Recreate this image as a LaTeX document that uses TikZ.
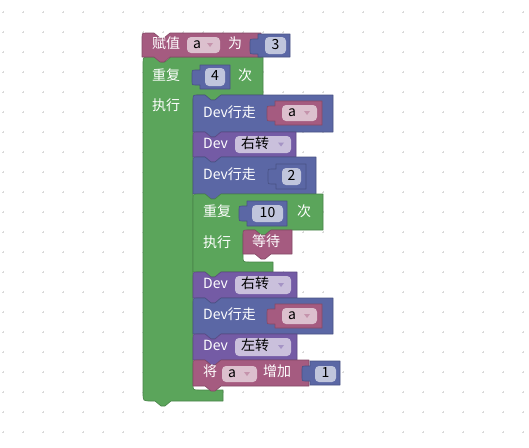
\documentclass[tikz,border=0pt]{standalone}
\usepackage{fontspec}
\setmainfont{Noto Sans CJK SC}
\definecolor{cmag}{HTML}{A55B80}
\definecolor{cgreen}{HTML}{5BA55B}
\definecolor{cblue}{HTML}{5B67A5}
\definecolor{cpurple}{HTML}{745BA5}
\definecolor{cgrid}{HTML}{D9D9D9}
\tikzset{
  lbl/.style={text=white, font=\fontsize{14}{16}\selectfont, inner sep=0pt, text height=0.88em, text depth=0.12em, anchor=west},
  ftxt/.style={text=black, font=\fontsize{14}{16}\selectfont, inner sep=0pt, text height=0.88em, text depth=0.12em},
  blkline/.style={line width=0.6pt, line join=round},
  fldbox/.style={fill=white, fill opacity=0.62, rounded corners=4pt},
}
% statement block: color, x1, y1, x2, y2
\newcommand\stmtblk[5]{%
  \path[blkline, fill=#1, draw=#1!80!black]
    (#2,#3+5) .. controls (#2,#3) .. (#2+5,#3) -- (#2+12,#3) -- (#2+18,#3+5) -- (#2+22,#3+5) -- (#2+28,#3)
    -- (#4,#3) -- (#4,#5) -- (#2+28,#5) -- (#2+22,#5+5) -- (#2+18,#5+5) -- (#2+12,#5) -- (#2,#5) -- cycle;}
% value block: color, x1, y1, x2, y2
\newcommand\valblk[5]{%
  \path[blkline, fill=#1, draw=#1!80!black]
    (#2,#3) -- (#4,#3) -- (#4,#5) -- (#2,#5) -- (#2,#3+20) -- (#2-5,#3+20) .. controls (#2-8,#3+20) .. (#2-8,#3+17)
    -- (#2-8,#3+8) .. controls (#2-8,#3+5) .. (#2-5,#3+5) -- (#2,#3+5) -- cycle;}
% plain field: name, x1, y1, x2, y2, text
\newcommand\numfld[6]{%
  \path[fldbox] (#2,#3) rectangle (#4,#5);
  \node[ftxt] (#1) at ({(#2+#4)/2},{(#3+#5)/2}) {#6};}
% dropdown field: name, x1, y1, x2, y2, text, triangle colour
\newcommand\ddfld[7]{%
  \path[fldbox] (#2,#3) rectangle (#4,#5);
  \node[ftxt, anchor=west] (#1) at (#2+6,{(#3+#5)/2}) {#6};
  \path[fill=#7] (#4-13,{(#3+#5)/2-2}) -- (#4-7,{(#3+#5)/2-2}) -- (#4-10,{(#3+#5)/2+2}) -- cycle;}
\begin{document}
\begin{tikzpicture}[x=1pt, y=-1pt]
\path[fill=white, use as bounding box] (0,0) rectangle (529,447);
% grid
\foreach \gx in {3,23,...,523}{
  \foreach \gy in {12,32,...,432}{
    \path[fill=cgrid] (\gx-1.3,\gy-0.45) rectangle (\gx+1.3,\gy+0.45);
    \path[fill=cgrid] (\gx-0.45,\gy-1.3) rectangle (\gx+0.45,\gy+1.3);
  }}
% outer repeat (green C block)
\path[blkline, fill=cgreen, draw=cgreen!80!black]
  (143,63) .. controls (143,57) .. (149,57) -- (155,57) -- (161,62) -- (165,62) -- (171,57) -- (263,57) -- (263,95)
  -- (221,95) -- (215,100) -- (211,100) -- (205,95) -- (199,95) .. controls (193,95) .. (193,101)
  -- (193,384) .. controls (193,390) .. (199,390) -- (223,390) -- (223,401)
  -- (171,401) -- (165,406) -- (161,406) -- (155,401) -- (151,401) .. controls (143,401) .. (143,393) -- cycle;
\node[lbl] (rep1) at (152,77) {重复};
\node[lbl] (ci1) at (238,77) {次};
\node[lbl] (do1) at (152,107) {执行};
\valblk{cblue}{200}{65}{230}{89}
\numfld{n4}{205}{68}{225}{86}{4}
% C1: Dev行走 a
\stmtblk{cblue}{193}{95}{333}{132}
\node[lbl] (walk1) at (203,114) {Dev行走};
\valblk{cmag}{275}{101}{322}{125}
\ddfld{va1}{282}{105}{317}{121}{a}{cmag!65!white}
% C2: Dev 右转
\stmtblk{cpurple}{193}{132}{296}{157}
\node[lbl] (dev2) at (203,145) {Dev};
\ddfld{turn1}{235}{136}{291}{153}{右转}{cpurple!65!white}
% C3: Dev行走 2
\stmtblk{cblue}{193}{157}{316}{194}
\node[lbl] (walk2) at (203,176) {Dev行走};
\valblk{cblue}{276}{164}{306}{189}
\numfld{n2}{282}{168}{301}{185}{2}
% inner repeat
\path[blkline, fill=cgreen, draw=cgreen!80!black]
  (193,200) .. controls (193,194) .. (199,194) -- (205,194) -- (211,199) -- (215,199) -- (221,194) -- (323,194) -- (323,230)
  -- (271,230) -- (265,235) -- (261,235) -- (255,230) -- (249,230) .. controls (243,230) .. (243,236)
  -- (243,256) .. controls (243,262) .. (249,262) -- (273,262) -- (273,272)
  -- (221,272) -- (215,277) -- (211,277) -- (205,272) -- (193,272) -- cycle;
\node[lbl] (rep2) at (203,213) {重复};
\node[lbl] (ci2) at (297,213) {次};
\node[lbl] (do2) at (203,244) {执行};
\valblk{cblue}{247}{201}{287}{226}
\numfld{n10}{252}{205}{283}{222}{10}
% 等待
\stmtblk{cmag}{243}{230}{292}{254}
\node[lbl] (wait) at (252,243) {等待};
% C5: Dev 右转
\stmtblk{cpurple}{193}{272}{297}{298}
\node[lbl] (dev5) at (203,285) {Dev};
\ddfld{turn2}{235}{276}{291}{294}{右转}{cpurple!65!white}
% C6: Dev行走 a
\stmtblk{cblue}{193}{298}{333}{334}
\node[lbl] (walk3) at (203,316) {Dev行走};
\valblk{cmag}{275}{304}{322}{328}
\ddfld{va2}{282}{308}{317}{324}{a}{cmag!65!white}
% C7: Dev 左转
\stmtblk{cpurple}{193}{334}{297}{360}
\node[lbl] (dev7) at (203,347) {Dev};
\ddfld{turn3}{235}{338}{291}{356}{左转}{cpurple!65!white}
% C8: 将 a 增加 1
\stmtblk{cmag}{193}{360}{309}{386}
\node[lbl] (jiang) at (203,373) {将};
\ddfld{va3}{222}{366}{257}{382}{a}{cmag!65!white}
\node[lbl] (inc) at (263,373) {增加};
\valblk{cblue}{310}{361}{340}{385}
\numfld{n1}{315}{366}{336}{382}{1}
% top block: 赋值 a 为 3
\path[blkline, fill=cmag, draw=cmag!80!black]
  (142,38) .. controls (142,33) .. (147,33) -- (154,33) -- (160,38) -- (164,38) -- (170,33)
  -- (261,33) -- (261,57) -- (170,57) -- (164,62) -- (160,62) -- (154,57) -- (142,57) -- cycle;
\node[lbl] (set) at (152,45) {赋值};
\ddfld{va0}{187}{37}{220}{53}{a}{cmag!65!white}
\node[lbl] (wei) at (228,45) {为};
\valblk{cblue}{258}{34}{290}{57}
\numfld{n3}{265}{37}{286}{54}{3}
\end{tikzpicture}
\end{document}
